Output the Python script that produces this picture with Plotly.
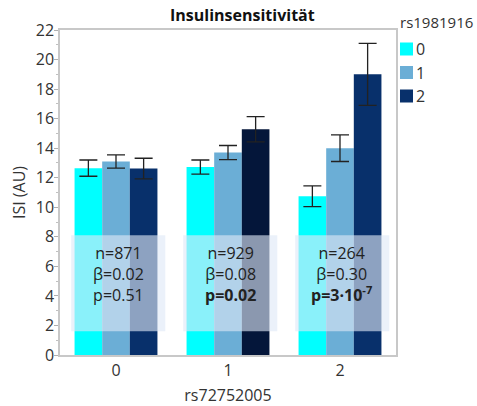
import plotly.graph_objects as go

categories = ["0", "1", "2"]
series_names = ["0", "1", "2"]
values = {
    "0": [12.65, 12.72, 10.75],
    "1": [13.10, 13.70, 14.00],
    "2": [12.62, 15.28, 19.00],
}
errors = {
    "0": [0.55, 0.48, 0.70],
    "1": [0.45, 0.48, 0.90],
    "2": [0.70, 0.85, 2.10],
}
colors = {
    "0": ["#00FFFF", "#00FFFF", "#00FFFF"],
    "1": ["#6BAED6", "#6BAED6", "#6BAED6"],
    "2": ["#08306B", "#04163A", "#08306B"],
}
legend_colors = ["#00FFFF", "#6BAED6", "#08306B"]
n_labels = ["n=871", "n=929", "n=264"]
beta_labels = ["β=0.02", "β=0.08", "β=0.30"]
p_labels = ["p=0.51", "<b>p=0.02</b>", "<b>p=3·10<sup>-7</sup></b>"]
y_ticks = [0, 2, 4, 6, 8, 10, 12, 14, 16, 18, 20, 22]

FONT = "Open Sans, Noto Sans, sans-serif"

fig = go.Figure()
for s in series_names:
    fig.add_trace(go.Bar(
        x=categories, y=values[s], name=s,
        marker=dict(color=colors[s], line=dict(width=0)),
        error_y=dict(type="data", array=errors[s], color="#222222", thickness=1.3, width=9),
        showlegend=False,
    ))

plot_l, plot_r, plot_t, plot_b = 60, 396, 30, 355
W, H = 477, 406
def px_x(px):
    return (px - plot_l) / (plot_r - plot_l)
def px_y(py):
    return (plot_b - py) / (plot_b - plot_t)

shapes = []
annotations = []
for i, c in enumerate(categories):
    shapes.append(dict(type="rect", xref="x", yref="y", x0=i - 0.40, x1=i + 0.44,
                       y0=1.6, y1=8.1, fillcolor="rgba(222,233,247,0.62)",
                       line=dict(width=0), layer="above"))
    txt = n_labels[i] + "<br>" + beta_labels[i] + "<br>" + p_labels[i]
    annotations.append(dict(x=i + 0.02, y=5.5, xref="x", yref="y", text=txt,
                            showarrow=False, align="center",
                            font=dict(family=FONT, size=16, color="#222222")))

# legend (manual)
annotations.append(dict(x=px_x(398), y=px_y(22), xref="paper", yref="paper",
                        text="rs1981916", showarrow=False, xanchor="left", yanchor="middle",
                        font=dict(family=FONT, size=15, color="#333333")))
for k, s in enumerate(series_names):
    yc = 49 + k * 23.5
    shapes.append(dict(type="rect", xref="paper", yref="paper",
                       x0=px_x(400), x1=px_x(413), y0=px_y(yc + 6.5), y1=px_y(yc - 6.5),
                       fillcolor=legend_colors[k], line=dict(width=0)))
    annotations.append(dict(x=px_x(414), y=px_y(yc), xref="paper", yref="paper",
                            text=s, showarrow=False, xanchor="left", yanchor="middle",
                            font=dict(family=FONT, size=16, color="#333333")))

annotations.append(dict(x=px_x(243), y=px_y(15), xref="paper", yref="paper",
                        text="<b>Insulinsensitivität</b>", showarrow=False,
                        xanchor="center", yanchor="middle",
                        font=dict(family=FONT, size=16, color="#111111")))

fig.update_layout(
    width=W, height=H,
    margin=dict(l=plot_l, r=W - plot_r, t=plot_t, b=H - plot_b),
    paper_bgcolor="white", plot_bgcolor="white",
    barmode="group", bargap=0.26, bargroupgap=0,
    font=dict(family=FONT, size=16, color="#333333"),
    shapes=shapes, annotations=annotations,
    xaxis=dict(
        type="category", showline=True, linecolor="#c8c8c8", linewidth=1.5, mirror=True,
        ticks="", showgrid=False, automargin=False,
        title=dict(text="rs72752005", font=dict(size=16, family=FONT, color="#333333"), standoff=12),
        tickfont=dict(size=16, color="#333333"),
    ),
    yaxis=dict(
        range=[0, 22], tickvals=y_ticks, showline=True, linecolor="#c8c8c8", linewidth=1.5,
        mirror=True, ticks="outside", ticklen=4, tickcolor="#b0b0b0", showgrid=False,
        zeroline=False, automargin=False, ticklabelstandoff=-3,
        minor=dict(dtick=1, ticks="outside", ticklen=2, tickcolor="#c0c0c0"),
        title=dict(text="ISI (AU)", font=dict(size=16, family=FONT, color="#333333"), standoff=6),
        tickfont=dict(size=16, color="#333333"),
    ),
)

fig.write_html("out.html")
